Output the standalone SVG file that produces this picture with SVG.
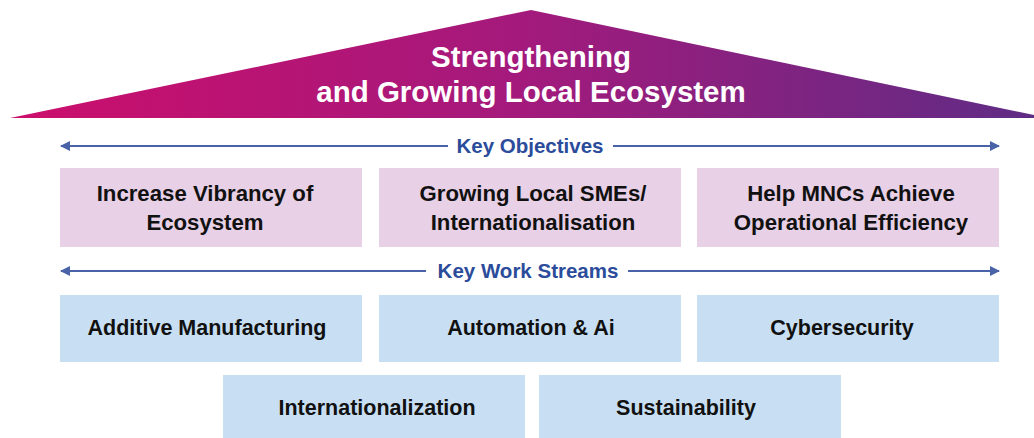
<svg xmlns="http://www.w3.org/2000/svg" width="1034" height="438" viewBox="0 0 1034 438">
  <defs>
    <linearGradient id="roofGrad" x1="10" y1="0" x2="1034" y2="0" gradientUnits="userSpaceOnUse">
      <stop offset="0" stop-color="#cc0e6c"/>
      <stop offset="0.5" stop-color="#a31a7c"/>
      <stop offset="1" stop-color="#5f2c85"/>
    </linearGradient>
    <marker id="arrow" viewBox="0 0 10 10" refX="9" refY="5" markerWidth="10" markerHeight="10" markerUnits="userSpaceOnUse" orient="auto-start-reverse">
      <path d="M0,0 L10,5 L0,10 Z" fill="#4a63a8"/>
    </marker>
    <style>
      .title { font-family: "Liberation Sans", Arial, sans-serif; font-weight: bold; font-size: 29.5px; fill: #ffffff; text-anchor: middle; }
      .label { font-family: "Liberation Sans", Arial, sans-serif; font-weight: bold; font-size: 20.5px; fill: #2b4c9b; text-anchor: middle; }
      .txt { font-family: "Liberation Sans", Arial, sans-serif; font-weight: bold; font-size: 21.5px; fill: #111111; text-anchor: middle; }
      .txt2 { font-family: "Liberation Sans", Arial, sans-serif; font-weight: bold; font-size: 22.2px; fill: #111111; text-anchor: middle; }
      .obj { fill: #e8d0e6; }
      .ws { fill: #c8dff3; }
      .conn { stroke: #4a63a8; stroke-width: 2; fill: none; }
    </style>
  </defs>

  <g id="roof">
    <polygon points="10,118 531,10 1034,115 1034,118" fill="url(#roofGrad)"/>
    <text class="title" x="531" y="67">Strengthening</text>
    <text class="title" x="531" y="102">and Growing Local Ecosystem</text>
  </g>

  <g id="connectors">
    <line class="conn" x1="448" y1="146" x2="61" y2="146" marker-end="url(#arrow)"/>
    <line class="conn" x1="613" y1="146" x2="999" y2="146" marker-end="url(#arrow)"/>
    <line class="conn" x1="426" y1="271" x2="61" y2="271" marker-end="url(#arrow)"/>
    <line class="conn" x1="628" y1="271" x2="999" y2="271" marker-end="url(#arrow)"/>
  </g>

  <g id="label-objectives">
    <text class="label" x="530" y="153">Key Objectives</text>
  </g>
  <g id="label-workstreams">
    <text class="label" x="528" y="278">Key Work Streams</text>
  </g>

  <g id="obj1">
    <rect class="obj" x="60" y="168" width="302" height="79"/>
    <text class="txt2" x="205" y="201">Increase Vibrancy of</text>
    <text class="txt2" x="205" y="230">Ecosystem</text>
  </g>
  <g id="obj2">
    <rect class="obj" x="379" y="168" width="302" height="79"/>
    <text class="txt2" x="533" y="201">Growing Local SMEs/</text>
    <text class="txt2" x="533" y="230">Internationalisation</text>
  </g>
  <g id="obj3">
    <rect class="obj" x="697" y="168" width="302" height="79"/>
    <text class="txt2" x="851" y="201">Help MNCs Achieve</text>
    <text class="txt2" x="851" y="230">Operational Efficiency</text>
  </g>

  <g id="ws1">
    <rect class="ws" x="60" y="295" width="302" height="67"/>
    <text class="txt" x="207" y="335">Additive Manufacturing</text>
  </g>
  <g id="ws2">
    <rect class="ws" x="379" y="295" width="302" height="67"/>
    <text class="txt" x="531" y="335">Automation &amp; Ai</text>
  </g>
  <g id="ws3">
    <rect class="ws" x="697" y="295" width="302" height="67"/>
    <text class="txt" x="842" y="335">Cybersecurity</text>
  </g>
  <g id="ws4">
    <rect class="ws" x="223" y="375" width="302" height="63"/>
    <text class="txt" x="377" y="415">Internationalization</text>
  </g>
  <g id="ws5">
    <rect class="ws" x="539" y="375" width="302" height="63"/>
    <text class="txt" x="686" y="415">Sustainability</text>
  </g>
</svg>
